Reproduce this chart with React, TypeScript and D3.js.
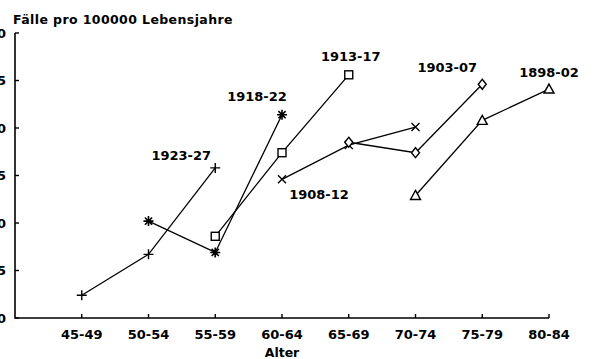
import React from "react";
import * as d3 from "d3";

const categories = ["45-49", "50-54", "55-59", "60-64", "65-69", "70-74", "75-79", "80-84"];
const yTicks = [0, 5, 10, 15, 20, 25, 30];

const cohorts = ["1923-27", "1918-22", "1913-17", "1908-12", "1903-07", "1898-02"];
const startIndex = [0, 1, 2, 3, 4, 5];
const values1923 = [2.4, 6.7, 15.8];
const values1918 = [10.2, 6.9, 21.4];
const values1913 = [8.6, 17.4, 25.6];
const values1908 = [14.6, 18.2, 20.1];
const values1903 = [18.5, 17.4, 24.6];
const values1898 = [12.9, 20.8, 24.1];
const seriesValues = [values1923, values1918, values1913, values1908, values1903, values1898];
const markers = ["plus", "asterisk", "square", "cross", "diamond", "triangle"];
const labelPoint = [2, 2, 2, 0, 2, 2];
const labelOffset: [number, number][] = [
  [-34, -13],
  [-25, -18],
  [2, -18],
  [37, 15],
  [-35, -17],
  [0, -17],
];

const FONT = "'DejaVu Sans', sans-serif";

function Marker({ type, x, y }: { type: string; x: number; y: number }) {
  const s = 5;
  const st = { stroke: "#000", strokeWidth: 1.4, fill: "none" } as const;
  if (type === "plus")
    return <path d={`M${x - s},${y}H${x + s}M${x},${y - s}V${y + s}`} {...st} />;
  if (type === "cross")
    return <path d={`M${x - 4},${y - 4}L${x + 4},${y + 4}M${x - 4},${y + 4}L${x + 4},${y - 4}`} {...st} />;
  if (type === "asterisk")
    return (
      <path
        d={`M${x - s},${y}H${x + s}M${x},${y - s}V${y + s}M${x - 3.6},${y - 3.6}L${x + 3.6},${y + 3.6}M${x - 3.6},${y + 3.6}L${x + 3.6},${y - 3.6}`}
        {...st}
        strokeWidth={1.6}
      />
    );
  if (type === "square")
    return <rect x={x - 4} y={y - 4} width={8} height={8} {...st} fill="#fff" />;
  if (type === "diamond")
    return <path d={`M${x},${y - 5}L${x + 4},${y}L${x},${y + 5}L${x - 4},${y}Z`} {...st} fill="#fff" />;
  return <path d={`M${x},${y - 5}L${x + 5},${y + 4}L${x - 5},${y + 4}Z`} {...st} fill="#fff" />;
}

export default function App() {
  const width = 594;
  const height = 359;
  const x = d3.scaleLinear().domain([0, categories.length]).range([15, 549]);
  const y = d3.scaleLinear().domain([0, 30]).range([318, 33]);
  const line = d3
    .line<[number, number]>()
    .x((d) => x(d[0]))
    .y((d) => y(d[1]));

  return (
    <svg
      width={width}
      height={height}
      style={{ position: "absolute", left: 0, top: 0, background: "#fff" }}
      fontFamily={FONT}
      fontWeight="bold"
    >
      <rect width={width} height={height} fill="#fff" />
      <path d={`M${x(0)},${y(30)}V${y(0)}H${x(categories.length)}`} stroke="#000" strokeWidth={1.6} fill="none" />
      {yTicks.map((t) => (
        <g key={t}>
          <line x1={x(0)} x2={x(0) + 4} y1={y(t)} y2={y(t)} stroke="#000" strokeWidth={1.4} />
          <text x={6} y={y(t)} dy="0.36em" textAnchor="end" fontSize={13}>
            {t}
          </text>
        </g>
      ))}
      {categories.map((c, i) => (
        <g key={c}>
          <line x1={x(i + 1)} x2={x(i + 1)} y1={y(0)} y2={y(0) - 4} stroke="#000" strokeWidth={1.4} />
          <text x={x(i + 1)} y={y(0) + 21} textAnchor="middle" fontSize={13}>
            {c}
          </text>
        </g>
      ))}
      <text x={x(4)} y={357} textAnchor="middle" fontSize={12.5}>
        Alter
      </text>
      <text x={13} y={24} fontSize={12.5} letterSpacing={0.4}>
        Fälle pro 100000 Lebensjahre
      </text>
      {seriesValues.map((vals, si) => {
        const pts: [number, number][] = vals.map((v, k) => [startIndex[si] + k + 1, v]);
        const lp = pts[labelPoint[si]];
        return (
          <g key={cohorts[si]}>
            <path d={line(pts) || ""} stroke="#000" strokeWidth={1.3} fill="none" />
            {pts.map((p, k) => (
              <Marker key={k} type={markers[si]} x={x(p[0])} y={y(p[1])} />
            ))}
            <text
              x={x(lp[0]) + labelOffset[si][0]}
              y={y(lp[1]) + labelOffset[si][1]}
              dy="0.36em"
              textAnchor="middle"
              fontSize={13}
            >
              {cohorts[si]}
            </text>
          </g>
        );
      })}
    </svg>
  );
}
